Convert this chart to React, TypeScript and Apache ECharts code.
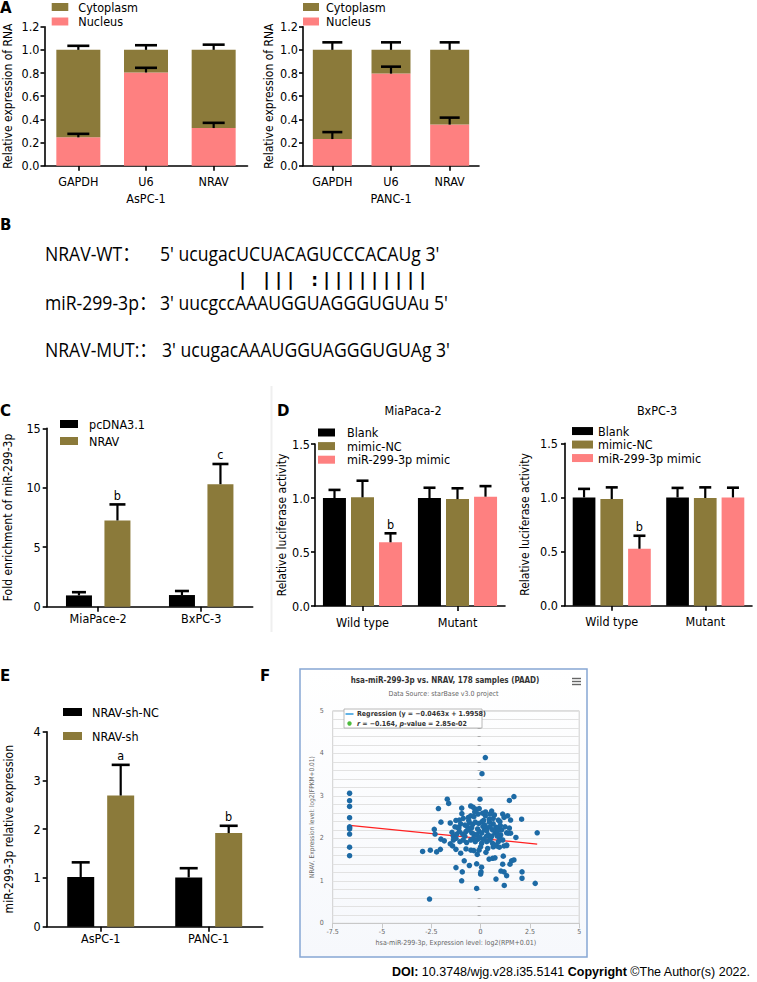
import React, { useEffect, useRef } from "react";
import * as echarts from "echarts";

const FONT = "'DejaVu Sans Condensed', 'DejaVu Sans', sans-serif";
const SEQ_FONT = "'Open Sans', 'Noto Sans', 'Noto Sans CJK SC', sans-serif";
const GOLD = "#8b7a3a";
const PINK = "#fe8080";
const BLACK = "#000000";

// ---------- Panel A : nuclear / cytoplasmic fractions ----------
const aCategories = ["GAPDH", "U6", "NRAV"];
const aspcNucleus = [0.245, 0.805, 0.325];
const aspcNucleusErr = [0.275, 0.845, 0.37];
const aspcTotal = [1.0, 1.0, 1.0];
const aspcTotalErr = [1.035, 1.04, 1.045];
const pancNucleus = [0.23, 0.795, 0.355];
const pancNucleusErr = [0.29, 0.855, 0.415];
const pancTotal = [1.0, 1.0, 1.0];
const pancTotalErr = [1.065, 1.065, 1.065];

// ---------- Panel B : sequences ----------
const seqLabels = ["NRAV-WT：", "miR-299-3p：", "NRAV-MUT:："];
const seqTexts = [
  "5' ucugacUCUACAGUCCCACAUg 3'",
  "3' uucgccAAAUGGUAGGGUGUAu 5'",
  "3' ucugacAAAUGGUAGGGUGUAg 3'",
];
const pairMarks = "| ||| :|||||||||";

// ---------- Panel C : RIP enrichment ----------
const cCategories = ["MiaPace-2", "BxPC-3"];
const cPcdna = [0.95, 0.98];
const cPcdnaErr = [1.22, 1.32];
const cNrav = [7.25, 10.3];
const cNravErr = [8.6, 12.0];
const cNravSig = ["b", "c"];

// ---------- Panel D : luciferase ----------
const dCategories = ["Wild type", "Mutant"];
const miaBlank = [1.0, 1.0];
const miaBlankErr = [1.075, 1.095];
const miaNC = [1.006, 0.99];
const miaNCErr = [1.16, 1.09];
const miaMimic = [0.59, 1.012];
const miaMimicErr = [0.673, 1.11];
const bxBlank = [1.0, 1.0];
const bxBlankErr = [1.079, 1.088];
const bxNC = [0.985, 0.995];
const bxNCErr = [1.093, 1.093];
const bxMimic = [0.526, 1.0];
const bxMimicErr = [0.646, 1.09];
const dMimicSig = ["b", ""];

// ---------- Panel E : knockdown ----------
const eCategories = ["AsPC-1", "PANC-1"];
const eShNC = [1.02, 1.01];
const eShNCErr = [1.32, 1.2];
const eSh = [2.69, 1.92];
const eShErr = [3.32, 2.07];
const eShSig = ["a", "b"];

// ---------- Panel F : starBase correlation ----------
const fZeroRpm: [number, number][] = [
  [-6.644, 3.06], [-6.644, 2.885], [-6.644, 2.75], [-6.644, 2.485], [-6.644, 2.27],
  [-6.644, 2.25], [-6.644, 2.22], [-6.644, 2.1], [-6.644, 1.79], [-6.644, 1.59],
];
const fLeftTail: [number, number][] = [
  [-1.69, 2.92], [-1.62, 2.82], [-2.14, 2.7], [-2.01, 2.38], [-1.54, 2.36], [-2.35, 2.21],
  [-2.31, 2.1], [-2.01, 1.98], [-1.84, 1.94], [-1.45, 2.14], [-1.54, 1.87], [-1.42, 1.82],
  [-1.33, 2.04], [-2.94, 1.69], [-2.55, 1.72], [-2.23, 1.68], [-2.04, 1.74], [-1.25, 1.74],
  [-1.25, 1.31], [-2.59, 0.57],
];
const fOuter: [number, number][] = [
  [0.24, 3.9], [0.07, 3.52], [1.69, 2.98], [1.46, 2.89], [-0.03, 2.92], [2.08, 2.45],
  [2.87, 2.13], [1.79, 2.02], [2.77, 0.94], [2.1, 1.21], [2.1, 1.06], [1.2, 0.89],
  [-0.2, 0.82], [0.78, 1.04], [-0.96, 1.0], [0.0, 1.16], [0.02, 1.21], [0.05, 1.32],
  [-0.93, 1.21], [-0.57, 1.36], [-0.2, 1.4], [1.19, 1.21], [1.03, 1.23], [1.32, 1.12],
  [1.12, 1.39], [1.15, 1.58], [1.49, 1.39], [1.57, 1.47], [1.69, 1.49], [0.43, 1.51],
  [0.61, 1.53], [0.73, 1.54], [-0.83, 1.47], [-1.01, 1.65], [-0.74, 1.75], [-0.49, 1.72],
  [-0.34, 1.71], [-0.17, 1.62], [-0.08, 1.72], [0.27, 1.67], [0.36, 1.76], [0.64, 1.8],
  [0.81, 1.82], [0.95, 1.79], [1.19, 1.82], [1.32, 1.83], [1.12, 1.96],
];
const fCore: [number, number][] = [
  [-0.5, 2.76], [-0.37, 2.73], [-0.2, 2.68], [-0.07, 2.7], [-0.96, 2.71], [0.56, 2.64],
  [0.47, 2.57], [1.12, 2.57], [1.37, 2.53], [1.52, 2.43],
  [-1.25, 2.42], [-1.08, 2.43], [-0.88, 2.47], [-0.62, 2.49], [-0.5, 2.53], [-0.34, 2.51],
  [-0.13, 2.57], [0.1, 2.59], [0.24, 2.53], [0.44, 2.45], [0.64, 2.47], [0.9, 2.43],
  [0.98, 2.39], [1.19, 2.49],
  [-1.3, 2.27], [-1.18, 2.26], [-1.01, 2.34], [-0.79, 2.31], [-0.67, 2.27], [-0.57, 2.37],
  [-0.4, 2.33], [-0.27, 2.38], [-0.1, 2.35], [0.07, 2.39], [0.22, 2.31], [0.34, 2.24],
  [0.48, 2.27], [0.64, 2.34], [0.78, 2.26], [0.9, 2.24], [1.07, 2.2], [1.24, 2.27],
  [1.46, 2.24], [1.52, 2.12],
  [-1.38, 2.05], [-1.21, 2.1], [-1.08, 2.16], [-0.91, 2.1], [-0.74, 2.16], [-0.61, 2.2],
  [-0.45, 2.13], [-0.34, 2.1], [-0.2, 2.08], [-0.07, 2.16], [0.05, 2.12], [0.2, 2.2],
  [0.31, 2.18], [0.39, 2.08], [0.56, 2.05], [0.73, 2.12], [0.85, 2.16], [1.02, 2.08],
  [1.32, 2.13], [1.4, 2.12],
  [-1.38, 1.96], [-1.25, 2.0], [-1.05, 1.92], [-0.88, 1.96], [-0.71, 1.9], [-0.5, 1.96],
  [-0.37, 2.0], [-0.27, 1.92], [-0.12, 1.98], [0.05, 1.88], [0.14, 1.98], [0.31, 1.92],
  [0.47, 1.96], [0.61, 1.88], [0.73, 1.84], [0.9, 1.92], [0.98, 2.0], [1.32, 1.84],
  [-0.15, 2.22], [0.12, 2.28], [0.3, 2.05], [-0.45, 2.25], [0.6, 2.2], [-0.8, 2.05],
  [0.15, 2.42], [-0.05, 2.02], [0.45, 2.38], [-0.6, 2.42], [0.85, 2.05], [-1.1, 2.25],
  [0.25, 2.62], [-0.3, 2.62], [0.7, 2.55], [1.0, 2.3], [-0.95, 2.58], [0.0, 1.8], [0.5, 2.0],
];
const fRegression: [number, number][] = [[-6.644, 2.303], [2.87, 1.863]];

function bar(name: string, gi: number, data: number[], color: string, width: number, extra: any = {}) {
  return {
    type: "bar", name, xAxisIndex: gi, yAxisIndex: gi, data, barWidth: width,
    itemStyle: { color }, emphasis: { disabled: true }, ...extra,
  };
}

function errSeries(gi: number, values: number[], errs: number[], offset: number, cap: number, sig?: string[]) {
  return {
    type: "custom",
    xAxisIndex: gi,
    yAxisIndex: gi,
    z: 10,
    silent: true,
    data: values.map((v, i) => [i, v, errs[i]]),
    encode: { x: 0, y: [1, 2] },
    renderItem: (params: any, api: any) => {
      const i = api.value(0);
      const b = api.coord([i, api.value(1)]);
      const t = api.coord([i, api.value(2)]);
      const x = b[0] + offset;
      const children: any[] = [
        { type: "line", shape: { x1: x, y1: b[1], x2: x, y2: t[1] }, style: { stroke: "#000", lineWidth: 2.2 } },
        { type: "line", shape: { x1: x - cap / 2, y1: t[1], x2: x + cap / 2, y2: t[1] }, style: { stroke: "#000", lineWidth: 2.6 } },
      ];
      const s = sig ? sig[params.dataIndex] : "";
      if (s) {
        children.push({
          type: "text", x, y: t[1] - 9,
          style: { text: s, fontSize: 12.5, fontFamily: FONT, fill: "#000", align: "center", verticalAlign: "middle" },
        });
      }
      return { type: "group", children };
    },
  };
}

function catX(gi: number, data: string[], margin: number, extra: any = {}) {
  return {
    type: "category", gridIndex: gi, data,
    axisLine: { show: true, lineStyle: { color: "#000", width: 1.6 } },
    axisTick: { show: true, alignWithLabel: true, length: 5, lineStyle: { color: "#000", width: 1.6 } },
    axisLabel: { color: "#000", fontSize: 12.5, fontFamily: FONT, margin },
    splitLine: { show: false },
    ...extra,
  };
}

function valY(gi: number, max: number, interval: number, decimals: number, name: string, nameGap: number, margin: number) {
  return {
    type: "value", gridIndex: gi, min: 0, max, interval,
    axisLine: { show: true, lineStyle: { color: "#000", width: 1.6 } },
    axisTick: { show: true, length: 4, lineStyle: { color: "#000", width: 1.6 } },
    axisLabel: { color: "#000", fontSize: 12.5, fontFamily: FONT, margin, formatter: (v: number) => v.toFixed(decimals) },
    splitLine: { show: false },
    name, nameLocation: "middle", nameGap, nameRotate: 90,
    nameTextStyle: { color: "#000", fontSize: 12, fontFamily: FONT },
  };
}

function legend(names: string[], left: number, top: number, w: number, lineHeight: number, gap: number, padLeft: number) {
  return {
    data: names, left, top, orient: "vertical", icon: "rect", itemWidth: w, itemHeight: 8,
    itemGap: gap, padding: 0, selectedMode: false,
    textStyle: { color: "#000", fontSize: 12.5, fontFamily: FONT, lineHeight, padding: [0, 0, 0, padLeft] },
  };
}

function txt(text: string, x: number, y: number, o: any = {}) {
  return {
    type: "text", x, y, silent: true,
    scaleX: o.scaleX || 1,
    style: {
      text, fill: o.fill || "#000", fontSize: o.fontSize || 12, fontFamily: o.fontFamily || FONT,
      fontWeight: o.fontWeight || "normal", align: o.align || "left", verticalAlign: o.verticalAlign || "middle",
      rich: o.rich,
    },
    z: o.z,
  };
}

function buildOption(): any {
  const aspcCyto = aspcTotal.map((t, i) => +(t - aspcNucleus[i]).toFixed(3));
  const pancCyto = pancTotal.map((t, i) => +(t - pancNucleus[i]).toFixed(3));

  const grids = [
    { left: 44.5, top: 26.7, width: 203, height: 139 },
    { left: 303, top: 26.7, width: 176, height: 139 },
    { left: 46.7, top: 428.3, width: 206, height: 178.4 },
    { left: 315, top: 444, width: 190, height: 162 },
    { left: 565, top: 443.3, width: 187, height: 162.4 },
    { left: 46.7, top: 731.7, width: 216, height: 195 },
    { left: 332.7, top: 710.8, width: 246.5, height: 212.5, show: true, borderColor: "#cfcfcf", borderWidth: 1 },
  ].map((g) => ({ containLabel: false, ...g }));

  const xAxis = [
    catX(0, aCategories, 9, { name: "AsPC-1", nameLocation: "middle", nameGap: 26, nameTextStyle: { color: "#000", fontSize: 12.5, fontFamily: FONT } }),
    catX(1, aCategories, 9, { name: "PANC-1", nameLocation: "middle", nameGap: 26, nameTextStyle: { color: "#000", fontSize: 12.5, fontFamily: FONT } }),
    catX(2, cCategories, 5),
    catX(3, dCategories, 10),
    catX(4, dCategories, 9),
    catX(5, eCategories, 5),
    {
      type: "value", gridIndex: 6, min: -7.5, max: 5, interval: 2.5,
      axisLine: { show: true, lineStyle: { color: "#c8c8c8" } },
      axisTick: { show: true, length: 5, lineStyle: { color: "#c8c8c8" } },
      axisLabel: { fontSize: 7, color: "#666", fontFamily: FONT, margin: 5 },
      splitLine: { show: false },
      name: "hsa-miR-299-3p, Expression level: log2(RPM+0.01)",
      nameLocation: "middle", nameGap: 16,
      nameTextStyle: { fontSize: 7, color: "#666", fontFamily: FONT },
    },
  ];

  const yAxis = [
    valY(0, 1.2, 0.2, 1, "Relative expression of RNA", 31, 5),
    valY(1, 1.2, 0.2, 1, "Relative expression of RNA", 28.5, 5),
    valY(2, 15, 5, 0, "Fold enrichment of miR-299-3p", 33, 6),
    valY(3, 1.5, 0.5, 1, "Relative luciferase activity", 27.5, 5),
    valY(4, 1.5, 0.5, 1, "Relative luciferase activity", 34, 7),
    valY(5, 4, 1, 0, "miR-299-3p relative expression", 32, 6),
    {
      type: "value", gridIndex: 6, min: 0, max: 5, interval: 1,
      axisLine: { show: false },
      axisTick: { show: false },
      minorTick: { show: true, splitNumber: 5, length: 3, lineStyle: { color: "#aaa" } },
      axisLabel: { fontSize: 7, color: "#666", fontFamily: FONT, margin: 9 },
      splitLine: { show: true, lineStyle: { color: "#e2e2e2", width: 1 } },
      minorSplitLine: { show: true, lineStyle: { color: "#e2e2e2", width: 1 } },
      name: "NRAV, Expression level: log2(FPKM+0.01)",
      nameLocation: "middle", nameGap: 15.5, nameRotate: 90,
      nameTextStyle: { fontSize: 6.5, color: "#666", fontFamily: FONT },
    },
  ];

  const series: any[] = [
    // A left
    bar("Nucleus", 0, aspcNucleus, PINK, 44, { stack: "a0" }),
    bar("Cytoplasm", 0, aspcCyto, GOLD, 44, { stack: "a0" }),
    errSeries(0, aspcNucleus, aspcNucleusErr, 0, 22),
    errSeries(0, aspcTotal, aspcTotalErr, 0, 22),
    // A right
    bar("Nucleus", 1, pancNucleus, PINK, 39, { stack: "a1" }),
    bar("Cytoplasm", 1, pancCyto, GOLD, 39, { stack: "a1" }),
    errSeries(1, pancNucleus, pancNucleusErr, 0, 20),
    errSeries(1, pancTotal, pancTotalErr, 0, 20),
    // C
    bar("pcDNA3.1", 2, cPcdna, BLACK, 26, { barGap: "48%" }),
    bar("NRAV", 2, cNrav, GOLD, 26, { barGap: "48%" }),
    errSeries(2, cPcdna, cPcdnaErr, -19.25, 14),
    errSeries(2, cNrav, cNravErr, 19.25, 16, cNravSig),
    // D left
    bar("Blank", 3, miaBlank, BLACK, 23, { barGap: "22%" }),
    bar("mimic-NC", 3, miaNC, GOLD, 23, { barGap: "22%" }),
    bar("miR-299-3p mimic", 3, miaMimic, PINK, 23, { barGap: "22%" }),
    errSeries(3, miaBlank, miaBlankErr, -28, 12),
    errSeries(3, miaNC, miaNCErr, 0, 12),
    errSeries(3, miaMimic, miaMimicErr, 28, 12, dMimicSig),
    // D right
    bar("Blank", 4, bxBlank, BLACK, 22.7, { barGap: "22%" }),
    bar("mimic-NC", 4, bxNC, GOLD, 22.7, { barGap: "22%" }),
    bar("miR-299-3p mimic", 4, bxMimic, PINK, 22.7, { barGap: "22%" }),
    errSeries(4, bxBlank, bxBlankErr, -27.7, 12),
    errSeries(4, bxNC, bxNCErr, 0, 12),
    errSeries(4, bxMimic, bxMimicErr, 27.7, 12, dMimicSig),
    // E
    bar("NRAV-sh-NC", 5, eShNC, BLACK, 27, { barGap: "48%" }),
    bar("NRAV-sh", 5, eSh, GOLD, 27, { barGap: "48%" }),
    errSeries(5, eShNC, eShNCErr, -20, 18),
    errSeries(5, eSh, eShErr, 20, 18, eShSig),
    // F
    {
      type: "line", name: "regression", xAxisIndex: 6, yAxisIndex: 6, data: fRegression,
      symbol: "none", lineStyle: { color: "#ff2020", width: 1.2 }, z: 2, silent: true,
    },
    {
      type: "scatter", name: "samples", xAxisIndex: 6, yAxisIndex: 6,
      data: [...fZeroRpm, ...fLeftTail, ...fOuter, ...fCore],
      symbolSize: 5.5, itemStyle: { color: "#1d6aa5", opacity: 1 }, z: 3, silent: true,
    },
  ];

  const legends = [
    legend(["Cytoplasm", "Nucleus"], 51.7, 0, 16.6, 14, 0.5, 5),
    legend(["Cytoplasm", "Nucleus"], 303, 0, 16, 14, 0.5, 2),
    legend(["pcDNA3.1", "NRAV"], 60, 417, 18, 14, 3, 6),
    legend(["Blank", "mimic-NC", "miR-299-3p mimic"], 318, 425.7, 17, 13.6, 0, 7),
    legend(["Blank", "mimic-NC", "miR-299-3p mimic"], 572, 424.3, 21, 13.5, 0, 0),
    legend(["NRAV-sh-NC", "NRAV-sh"], 63, 705, 19, 14, 10, 5),
  ];

  const graphic: any[] = [];
  // panel letters
  const letters: [string, number, number, string][] = [
    ["A", 0, 0, "top"], ["B", 0, 225, "middle"], ["C", 0, 411, "middle"],
    ["D", 277, 411, "middle"], ["E", 0, 676, "middle"], ["F", 260, 676, "middle"],
  ];
  letters.forEach(([l, x, y, va]) =>
    graphic.push(txt(l, x, y, { fontSize: 15, fontWeight: "bold", fontFamily: "'DejaVu Sans', sans-serif", verticalAlign: va }))
  );

  // faint frame of panel D
  graphic.push({ type: "line", shape: { x1: 271.5, y1: 386, x2: 271.5, y2: 632 }, style: { stroke: "#efefef", lineWidth: 2 }, silent: true });

  // Panel B
  const seqY = [254, 303, 350];
  const seqX = [160, 160, 162];
  seqLabels.forEach((l, i) => {
    graphic.push(txt(l, 45, seqY[i], { fontSize: 20, fontFamily: SEQ_FONT, scaleX: 0.88 }));
    graphic.push(txt(seqTexts[i], seqX[i], seqY[i], { fontSize: 20, fontFamily: SEQ_FONT, scaleX: 0.88 }));
  });
  pairMarks.split("").forEach((ch, k) => {
    if (ch !== " ") graphic.push(txt(ch, 242.7 + 12 * k, 280, { fontSize: 17, fontWeight: "bold", fontFamily: "'DejaVu Sans', sans-serif", align: "center" }));
  });

  // D titles
  graphic.push(txt("MiaPaca-2", 413, 410, { align: "center", fontSize: 12.5 }));
  graphic.push(txt("BxPC-3", 657, 410, { align: "center", fontSize: 12.5 }));

  // Panel F frame and texts
  graphic.push({
    type: "rect", shape: { x: 300, y: 669, width: 287, height: 288 }, z: -5, silent: true,
    style: {
      fill: new echarts.graphic.LinearGradient(0, 0, 0, 1, [
        { offset: 0, color: "#ffffff" },
        { offset: 1, color: "#f6f8fc" },
      ]),
      stroke: "#86a6d4", lineWidth: 1.5,
    },
  });
  graphic.push(txt("hsa-miR-299-3p vs. NRAV, 178 samples (PAAD)", 445, 680, { fontSize: 8, fontWeight: "bold", align: "center", fill: "#333" }));
  graphic.push(txt("Data Source: starBase v3.0 project", 443.5, 694, { fontSize: 7, align: "center", fill: "#666" }));
  [678.5, 681.5, 684.5].forEach((y) =>
    graphic.push({ type: "line", shape: { x1: 572, y1: y, x2: 581, y2: y }, style: { stroke: "#666", lineWidth: 1.4 }, silent: true })
  );
  graphic.push({
    type: "rect", shape: { x: 344, y: 709, width: 138, height: 19 }, z: 50, silent: true,
    style: { fill: "#ffffff", stroke: "#a8a8a8", lineWidth: 0.8 },
  });
  graphic.push({ type: "line", shape: { x1: 345.5, y1: 714, x2: 353.5, y2: 714 }, z: 51, silent: true, style: { stroke: "#3aa0e0", lineWidth: 1.6 } });
  graphic.push(txt("Regression (y = −0.0463x + 1.9958)", 357, 714, { fontSize: 7, fontWeight: "bold", fill: "#333", z: 51 }));
  graphic.push({ type: "circle", shape: { cx: 349.5, cy: 723.5, r: 2.2 }, z: 51, silent: true, style: { fill: "#4cbb3c" } });
  graphic.push(txt("{i|r} = −0.164, {i|p}-value = 2.85e-02", 357, 723.5, {
    fontSize: 7, fontWeight: "bold", fill: "#333", z: 51,
    rich: { i: { fontStyle: "italic", fontWeight: "bold", fontSize: 7, fontFamily: FONT, fill: "#333" } },
  }));

  // footer
  graphic.push(txt("{b|DOI:} 10.3748/wjg.v28.i35.5141 {b|Copyright} ©The Author(s) 2022.", 392, 972, {
    fontSize: 12.5, fontFamily: "'Liberation Sans', sans-serif",
    rich: { b: { fontWeight: "bold", fontSize: 12.5, fontFamily: "'Liberation Sans', sans-serif", fill: "#000" } },
  }));

  return {
    animation: false,
    backgroundColor: "#ffffff",
    textStyle: { fontFamily: FONT },
    grid: grids,
    xAxis,
    yAxis,
    legend: legends,
    series,
    graphic,
  };
}

export default function App() {
  const ref = useRef<HTMLDivElement>(null);
  useEffect(() => {
    if (!ref.current) return;
    const chart = echarts.init(ref.current, undefined, { renderer: "svg" });
    chart.setOption(buildOption());
    return () => chart.dispose();
  }, []);
  return (
    <div
      ref={ref}
      style={{ position: "absolute", left: 0, top: 0, width: 757, height: 982, background: "#fff" }}
    />
  );
}
